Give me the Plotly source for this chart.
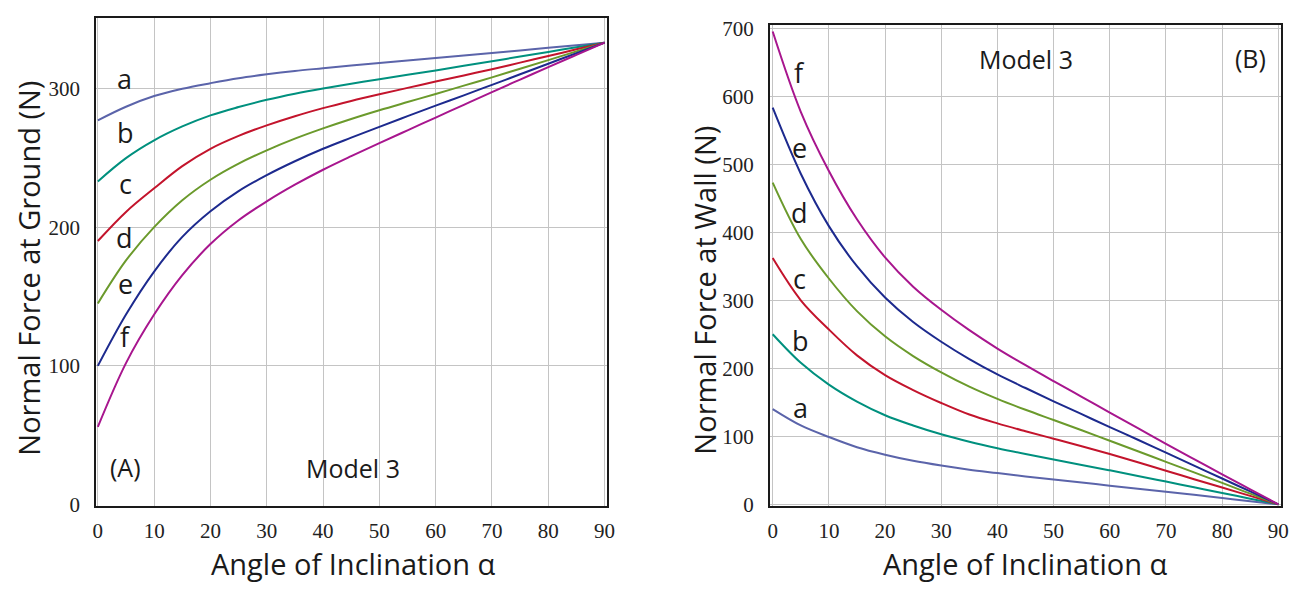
import plotly.graph_objects as go

# Angle of inclination (degrees) at which each curve is sampled
angle = [0, 5, 10, 15, 20, 25, 30, 35, 40, 45, 50, 55, 60, 65, 70, 75, 80, 85, 90]

# Normal force at the ground (N), Model 3, cases a-f
ground_a = [277, 286.8, 294.5, 299.8, 303.8, 307.4, 310.2, 312.6, 314.6, 316.6, 318.4, 320.2, 322, 323.8, 325.6, 327.4, 329.3, 331.2, 333]
ground_b = [233, 249.8, 262.6, 272.6, 280.6, 286.6, 291.8, 296.2, 300, 303.4, 306.6, 309.8, 313, 316.3, 319.6, 323, 326.3, 329.7, 333]
ground_c = [190, 211, 228, 244, 256.5, 265.8, 273.4, 280, 285.8, 291, 295.8, 300.4, 305, 309.4, 313.8, 318.6, 323.4, 328.2, 333]
ground_d = [145, 176, 200, 219.4, 234.2, 245.8, 255.4, 263.8, 271.2, 278, 284.3, 290.2, 296, 302, 308, 314.2, 320.4, 326.7, 333]
ground_e = [100, 137, 168, 193, 211.5, 226, 237.5, 247.5, 256.5, 264.5, 272.3, 280, 287.6, 295, 302.6, 310.2, 317.8, 325.4, 333]
ground_f = [56, 102, 137, 165.4, 187.8, 205, 218.6, 230.6, 241.4, 251.2, 260.6, 269.8, 279, 288.2, 297.4, 306.4, 315.4, 324.2, 333]

# Normal force at the wall (N), Model 3, cases a-f
wall_a = [140, 116, 99, 84, 73, 64, 57, 51, 46, 41, 36.5, 32, 27.5, 23, 18.5, 14, 9.2, 4.6, 0]
wall_b = [250, 208, 176, 151, 131, 116, 103, 92, 82.5, 74, 66, 58, 50, 41.8, 33.5, 25, 16.7, 8.3, 0]
wall_c = [362, 300, 257, 219, 190, 168, 149, 132, 119, 107.5, 96.5, 85.5, 74, 62, 49.5, 37, 24.7, 12.4, 0]
wall_d = [473, 390, 332, 284, 247, 218, 194, 173, 155, 139, 124, 109, 93.5, 78, 62.5, 47, 31.5, 15.7, 0]
wall_e = [583, 486, 409, 350, 304, 268, 239, 213.5, 191, 171, 151.5, 132.5, 113.5, 95, 76, 57, 38, 19, 0]
wall_f = [695, 577, 490, 419, 363, 320, 286, 256, 229, 204.5, 181, 158, 135, 112, 89, 66.5, 44, 22, 0]

case_labels = ["a", "b", "c", "d", "e", "f"]
case_colors = ["#5b64aa", "#00907e", "#c3142c", "#6b9a2c", "#1d2a8e", "#a8168e"]

ground_series = [ground_a, ground_b, ground_c, ground_d, ground_e, ground_f]
wall_series = [wall_a, wall_b, wall_c, wall_d, wall_e, wall_f]

x_ticks = [0, 10, 20, 30, 40, 50, 60, 70, 80, 90]
ground_ticks = [0, 100, 200, 300]
wall_ticks = [0, 100, 200, 300, 400, 500, 600, 700]

W, H = 1304, 590
fig = go.Figure()

for ys, col in zip(ground_series, case_colors):
    fig.add_trace(go.Scatter(x=angle, y=ys, mode="lines", xaxis="x", yaxis="y",
                             line=dict(color=col, width=2, shape="spline", smoothing=1),
                             showlegend=False, hoverinfo="skip"))
for ys, col in zip(wall_series, case_colors):
    fig.add_trace(go.Scatter(x=angle, y=ys, mode="lines", xaxis="x2", yaxis="y2",
                             line=dict(color=col, width=2, shape="spline", smoothing=1),
                             showlegend=False, hoverinfo="skip"))

def px_x(p):
    return p / W

def px_y(p):
    return 1 - p / H

tick_font = dict(family="Liberation Serif", size=21, color="#222222")
axis_common = dict(showline=True, mirror=True, linecolor="#1a1a1a", linewidth=2,
                   showgrid=True, gridcolor="#c4c4c4", gridwidth=1.2, zeroline=False,
                   tickfont=tick_font, ticks="")

fig.update_layout(
    width=W, height=H,
    margin=dict(l=0, r=0, t=0, b=0),
    paper_bgcolor="white", plot_bgcolor="white",
    xaxis=dict(domain=[px_x(93), px_x(609)], range=[-0.3, 90.5], tickvals=x_ticks,
               anchor="y", ticklabelstandoff=5, **axis_common),
    yaxis=dict(domain=[px_y(514), px_y(9)], range=[-0.7, 351], tickvals=ground_ticks,
               anchor="x", ticklabelstandoff=10, **axis_common),
    xaxis2=dict(domain=[px_x(773), px_x(1289)], range=[-0.5, 90.5], tickvals=x_ticks,
                anchor="y2", ticklabelstandoff=5, **axis_common),
    yaxis2=dict(domain=[px_y(514), px_y(17)], range=[-1.8, 704], tickvals=wall_ticks,
                anchor="x2", ticklabelstandoff=10, **axis_common),
)

text_font = dict(family="Open Sans", size=25, color="#1a1a1a")
letter_font = dict(family="Open Sans", size=27, color="#1a1a1a")
title_font = dict(family="Open Sans", size=29, color="#1a1a1a")

def paper_text(x, y, s, font, angle_deg=0):
    fig.add_annotation(x=px_x(x), y=px_y(y), xref="paper", yref="paper", text=s,
                       showarrow=False, font=font, textangle=angle_deg,
                       xanchor="center", yanchor="middle")

# Axis titles
paper_text(352, 574, "Angle of Inclination α", title_font)
paper_text(1030, 574, "Angle of Inclination α", title_font)
paper_text(25, 268, "Normal Force at Ground (N)", title_font, -90)
paper_text(707, 291, "Normal Force at Wall (N)", title_font, -90)

# Curve labels
ground_label_pos = [(122, 72), (123, 128), (123, 181), (122, 236), (123, 284), (123, 339)]
wall_label_pos = [(804, 412), (804, 343), (803, 279), (803, 211), (803, 143), (803, 66)]
for lab, (x, y) in zip(case_labels, ground_label_pos):
    paper_text(x, y, lab, letter_font)
for lab, (x, y) in zip(case_labels, wall_label_pos):
    paper_text(x, y, lab, letter_font)

# Panel tags
paper_text(123, 474, "(A)", text_font)
paper_text(352, 475, "Model 3", text_font)
paper_text(1031, 52, "Model 3", text_font)
paper_text(1258, 51, "(B)", text_font)

fig.write_html("out.html")
